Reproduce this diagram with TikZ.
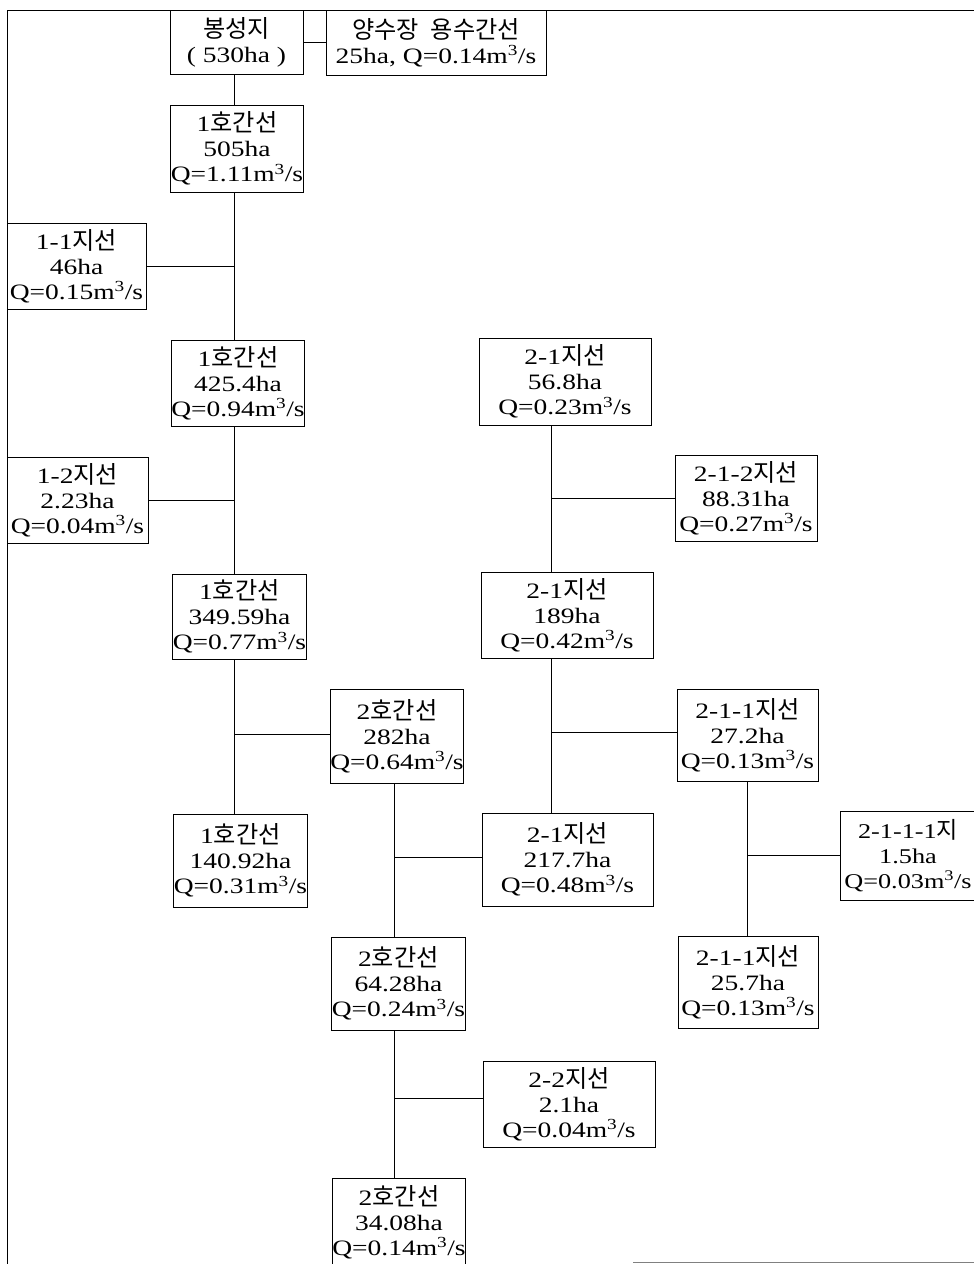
\documentclass[tikz,border=0pt]{standalone}
\usepackage{fontspec}
\setmainfont{Liberation Serif}[FakeStretch=1.25]
\newfontfamily\kr{Noto Sans CJK KR}[Scale=1.1]
\begin{document}
\begin{tikzpicture}[x=1pt,y=-1pt,
  box/.style={draw, line width=0.9pt, inner sep=0pt, align=center,
    font=\fontsize{22}{25}\selectfont},
  conn/.style={line width=0.9pt},
  frameline/.style={line width=0.9pt}]
\useasboundingbox (0,0) rectangle (974,1264);
\fill[white] (0,0) rectangle (974,1264);
% frame
\coordinate (fTL) at (7,10);
\coordinate (fTR) at (974,10);
\coordinate (fBL) at (7,1264);
\draw[frameline] (fTR) -- (fTL) -- (fBL);
\coordinate (fB1) at (633,1262);
\coordinate (fB2) at (974,1262);
\draw[frameline, gray] (fB1) -- (fB2);
% boxes
\node[box, minimum width=133pt, minimum height=64pt] (B0) at (236.5,42) {{\kr 봉성지}\\( 530ha )};
\node[box, minimum width=220pt, minimum height=65pt] (B1) at (436,42.5) {{\kr 양수장\hspace{0.5em}용수간선}\\25ha, Q=0.14m\textsuperscript{3}/s};
\node[box, minimum width=132pt, minimum height=87pt] (B2) at (237,148.5) {1{\kr 호간선}\\505ha\\Q=1.11m\textsuperscript{3}/s};
\node[box, minimum width=139pt, minimum height=86pt] (B3) at (76.5,266) {1-1{\kr 지선}\\46ha\\Q=0.15m\textsuperscript{3}/s};
\node[box, minimum width=132pt, minimum height=86pt] (B4) at (238,383) {1{\kr 호간선}\\425.4ha\\Q=0.94m\textsuperscript{3}/s};
\node[box, minimum width=141pt, minimum height=86pt] (B5) at (77.5,500) {1-2{\kr 지선}\\2.23ha\\Q=0.04m\textsuperscript{3}/s};
\node[box, minimum width=133pt, minimum height=85pt] (B6) at (239.5,616.5) {1{\kr 호간선}\\349.59ha\\Q=0.77m\textsuperscript{3}/s};
\node[box, minimum width=132pt, minimum height=94pt] (B7) at (397,736) {2{\kr 호간선}\\282ha\\Q=0.64m\textsuperscript{3}/s};
\node[box, minimum width=133pt, minimum height=93pt] (B8) at (240.5,860.5) {1{\kr 호간선}\\140.92ha\\Q=0.31m\textsuperscript{3}/s};
\node[box, minimum width=171pt, minimum height=93pt] (B9) at (567.5,859.5) {2-1{\kr 지선}\\217.7ha\\Q=0.48m\textsuperscript{3}/s};
\node[box, minimum width=133pt, minimum height=93pt] (B10) at (398.5,983.5) {2{\kr 호간선}\\64.28ha\\Q=0.24m\textsuperscript{3}/s};
\node[box, minimum width=172pt, minimum height=86pt] (B11) at (569,1104) {2-2{\kr 지선}\\2.1ha\\Q=0.04m\textsuperscript{3}/s};
\node[box, minimum width=132pt, minimum height=88pt] (B12) at (399,1222) {2{\kr 호간선}\\34.08ha\\Q=0.14m\textsuperscript{3}/s};
\node[box, minimum width=172pt, minimum height=87pt] (B13) at (565,381.5) {2-1{\kr 지선}\\56.8ha\\Q=0.23m\textsuperscript{3}/s};
\node[box, minimum width=142pt, minimum height=86pt] (B14) at (746,498) {2-1-2{\kr 지선}\\88.31ha\\Q=0.27m\textsuperscript{3}/s};
\node[box, minimum width=172pt, minimum height=86pt] (B15) at (567,615) {2-1{\kr 지선}\\189ha\\Q=0.42m\textsuperscript{3}/s};
\node[box, minimum width=141pt, minimum height=92pt] (B16) at (747.5,735) {2-1-1{\kr 지선}\\27.2ha\\Q=0.13m\textsuperscript{3}/s};
\node[box, minimum width=136pt, minimum height=89pt, font=\fontsize{21}{25}\selectfont] (B17) at (908,855.5) {2-1-1-1{\kr 지}\\1.5ha\\Q=0.03m\textsuperscript{3}/s};
\node[box, minimum width=140pt, minimum height=92pt] (B18) at (748,982) {2-1-1{\kr 지선}\\25.7ha\\Q=0.13m\textsuperscript{3}/s};
% trunk x positions
\coordinate (t1) at (234,0);
\coordinate (t2) at (394,0);
\coordinate (t3) at (551,0);
\coordinate (t4) at (747,0);
% connectors
\draw[conn] (B0.east) -- (B1.west |- B0.east);
\draw[conn] (B0.south -| t1) -- (B2.north -| t1);
\draw[conn] (B2.south -| t1) -- (B4.north -| t1);
\draw[conn] (B4.south -| t1) -- (B6.north -| t1);
\draw[conn] (B6.south -| t1) -- (B8.north -| t1);
\draw[conn] (B3.east) -- (B3.east -| t1);
\draw[conn] (B5.east) -- (B5.east -| t1);
\draw[conn] ([yshift=2pt]B7.west) -- ([yshift=2pt]B7.west -| t1);
\draw[conn] (B7.south -| t2) -- (B10.north -| t2);
\draw[conn] (B10.south -| t2) -- (B12.north -| t2);
\draw[conn] ([yshift=2pt]B9.west) -- ([yshift=2pt]B9.west -| t2);
\draw[conn] ([yshift=6pt]B11.west) -- ([yshift=6pt]B11.west -| t2);
\draw[conn] (B13.south -| t3) -- (B15.north -| t3);
\draw[conn] (B15.south -| t3) -- (B9.north -| t3);
\draw[conn] (B14.west) -- (B14.west -| t3);
\draw[conn] ([yshift=3pt]B16.west) -- ([yshift=3pt]B16.west -| t3);
\draw[conn] (B16.south -| t4) -- (B18.north -| t4);
\draw[conn] (B17.west) -- (B17.west -| t4);
\end{tikzpicture}
\end{document}
